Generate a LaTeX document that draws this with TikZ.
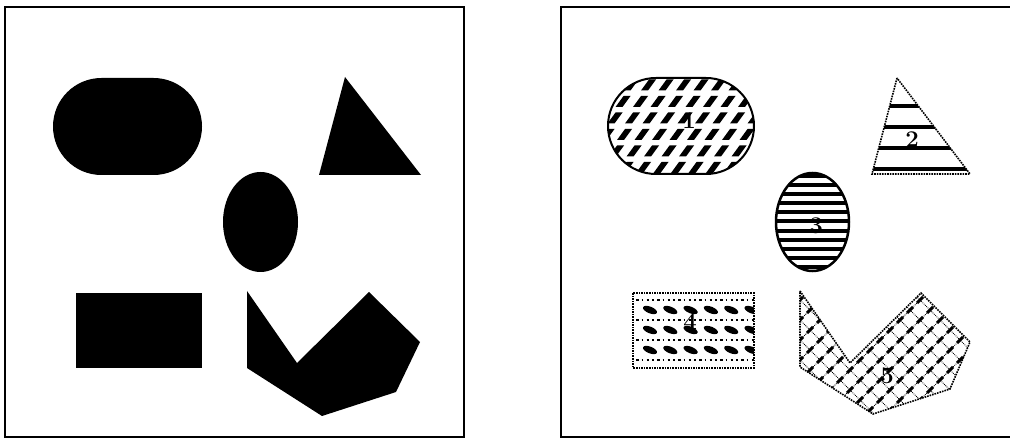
\documentclass[tikz,border=0pt]{standalone}
\begin{document}
\begin{tikzpicture}[x=1pt,y=-1pt,
  frame/.style={line width=2.2pt,draw=black},
  solidfill/.style={fill=black},
  dotb/.style={line width=1.6pt,densely dotted},
  lab/.style={font=\fontsize{24}{24}\selectfont\bfseries,inner sep=0pt,text=black}]
\useasboundingbox (0,0) rectangle (1010,438);
\fill[white] (0,0) rectangle (1010,438);
% ---------- left panel ----------
\draw[frame] (5,7) rectangle (464,437);
\fill[solidfill,rounded corners=48.5pt] (53,78) rectangle (202,175);
\fill[solidfill] (345,77) -- (319,175) -- (421,175) -- cycle;
\fill[solidfill] (260.5,222) ellipse [x radius=37.5pt, y radius=50pt];
\fill[solidfill] (76,293) rectangle (202,368);
\fill[solidfill] (247,291) -- (297,363) -- (369,292) -- (420,342) -- (396,392) -- (322,416) -- (247,368) -- cycle;
% ---------- right panel ----------
\draw[frame] (1014,7) -- (561,7) -- (561,437) -- (1014,437);
% shape 1: stadium with slanted dashes
\begin{scope}
  \clip[rounded corners=48pt] (608,78) rectangle (754,174);
  \foreach \k in {0,...,5}{
    \foreach \j in {0,...,14}{
      \pgfmathsetmacro\cx{596+17.5*\j-8*\k}
      \pgfmathsetmacro\cy{85+16.5*\k}
      \fill (\cx-7.5,\cy+5.5) -- (\cx-0.5,\cy+5.5) -- (\cx+7.5,\cy-5.5) -- (\cx+0.5,\cy-5.5) -- cycle;
    }
  }
\end{scope}
\draw[line width=2pt,rounded corners=48pt] (608,78) rectangle (754,174);
% shape 2: triangle with horizontal lines
\begin{scope}
  \clip (897,78) -- (872,174) -- (970,174) -- cycle;
  \foreach \y in {106,127,148,169}{
    \draw[line width=3.5pt] (860,\y) -- (980,\y);
  }
\end{scope}
\draw[dotb] (897,78) -- (872,174) -- (970,174) -- cycle;
% shape 3: ellipse with stripes
\begin{scope}
  \clip (812.5,222) ellipse [x radius=36.5pt, y radius=49pt];
  \foreach \i in {0,...,10}{
    \draw[line width=4pt] (770,{176+9.1*\i}) -- (856,{176+9.1*\i});
  }
\end{scope}
\draw[line width=2.5pt] (812.5,222) ellipse [x radius=36.5pt, y radius=49pt];
% shape 4: rectangle with leaf dashes
\begin{scope}
  \clip (633,293) rectangle (754,368);
  \foreach \y in {300,320,340,360}{
    \draw[line width=1.3pt,dash pattern=on 2.5pt off 3pt on 1.5pt off 3.5pt] (636,\y) -- (754,\y);
  }
  \foreach \y in {310,330,350}{
    \foreach \i in {0,...,5}{
      \pgfmathsetmacro\bx{650+20.3*\i}
      \fill[rotate around={-22:(\bx,\y)}] (\bx,\y) ellipse [x radius=7.5pt, y radius=3.3pt];
    }
  }
\end{scope}
\draw[dotb] (633,293) rectangle (754,368);
% shape 5: polygon with crosshatch
\begin{scope}
  \clip (800,291) -- (850,363) -- (921,293) -- (970,342) -- (950,389) -- (873,414) -- (800,367) -- cycle;
  \foreach \a in {-720,-700,...,-340}{
    \draw[line width=0.8pt,densely dotted] (780,780+\a) -- (1000,1000+\a);
  }
  \foreach \b in {1040,1060,...,1420}{
    \draw[line width=0.8pt,densely dotted] (780,\b-780) -- (1000,\b-1000);
  }
  \foreach \a in {-720,-700,...,-340}{
    \foreach \b in {1040,1060,...,1420}{
      \pgfmathsetmacro\px{(\b-\a)/2}
      \pgfmathsetmacro\py{(\a+\b)/2}
      \draw[line width=3pt] (\px-3,\py+3) -- (\px+3,\py-3);
    }
  }
\end{scope}
\draw[dotb] (800,291) -- (850,363) -- (921,293) -- (970,342) -- (950,389) -- (873,414) -- (800,367) -- cycle;
% labels
\node[lab] (n1) at (689,121) {1};
\node[lab] (n2) at (912,140) {2};
\node[lab] (n3) at (816,226) {3};
\node[lab] (n4) at (690,322) {4};
\node[lab] (n5) at (887,376) {5};
\end{tikzpicture}
\end{document}
